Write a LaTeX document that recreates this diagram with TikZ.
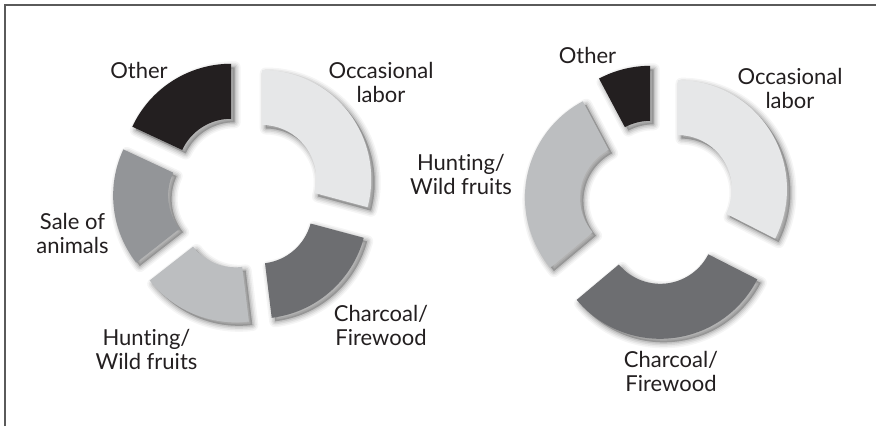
\documentclass[tikz,border=0pt]{standalone}
\usepackage{fontspec}
\setmainfont{Lato}[Ligatures=CommonOff]
\definecolor{cother}{HTML}{231F20}
\definecolor{cocc}{HTML}{E6E7E8}
\definecolor{cchar}{HTML}{6D6E71}
\definecolor{chunt}{HTML}{BCBEC0}
\definecolor{csale}{HTML}{939598}
\definecolor{ctext}{HTML}{231F20}
\definecolor{cframe}{HTML}{5A5A5A}
\newcommand\segpath[2]{(#1:109) arc[start angle=#1,end angle=#2,radius=109] -- (#2:54) arc[start angle=#2,end angle=#1,radius=54] -- cycle}
\newcommand\donutseg[6]{%
  \pgfmathsetmacro\segbis{(#3+#4)/2}%
  \begin{scope}[shift={(#1,#2)}]
   \begin{scope}[shift={(\segbis:#5)}]
    \foreach \sw/\so in {12/0.04,9/0.05,6/0.07,3/0.09}{
      \filldraw[black,fill opacity=\so,draw opacity=\so,line width=\sw,line join=round,shift={(3.5,-3.5)}] \segpath{#3}{#4};}
    \fill[#6] \segpath{#3}{#4};
   \end{scope}
  \end{scope}}
\tikzset{lbl/.style={font=\fontsize{22}{24}\selectfont, text=ctext, align=center, inner sep=0pt}}
\begin{document}
\begin{tikzpicture}[x=1pt,y=1pt]
\useasboundingbox (0,0) rectangle (876,426);
\fill[white] (0,0) rectangle (876,426);
\draw[cframe, line width=1.6] (5,0) -- (5,421) -- (876,421);
% left chart
\donutseg{244}{233}{90}{-15}{23}{cocc}
\donutseg{244}{233}{-15}{-83}{22}{cchar}
\donutseg{244}{233}{-83}{-142}{22}{chunt}
\donutseg{244}{233}{-142}{-205}{22}{csale}
\donutseg{244}{233}{-205}{-270}{24}{cother}
\node[lbl] (lo) at (139,355.5) {Other};
\node[lbl] (locc) at (381,344) {Occasional\\labor};
\node[lbl] (lsale) at (72.5,193) {Sale of\\animals};
\node[lbl] (lhunt) at (146.5,77) {Hunting/\\Wild fruits};
\node[lbl] (lchar) at (381,101) {Charcoal/\\Firewood};
% right chart
\donutseg{657}{224}{118}{90}{28}{cother}
\donutseg{657}{224}{90}{-27}{24.6}{cocc}
\donutseg{657}{224}{-27}{-140}{28}{cchar}
\donutseg{657}{224}{-140}{-242}{23.5}{chunt}
\node[lbl] (ro) at (587.5,370.5) {Other};
\node[lbl] (rocc) at (790,337.5) {Occasional\\labor};
\node[lbl] (rhunt) at (461,251.5) {Hunting/\\Wild fruits};
\node[lbl] (rchar) at (671,54.5) {Charcoal/\\Firewood};
\end{tikzpicture}
\end{document}
